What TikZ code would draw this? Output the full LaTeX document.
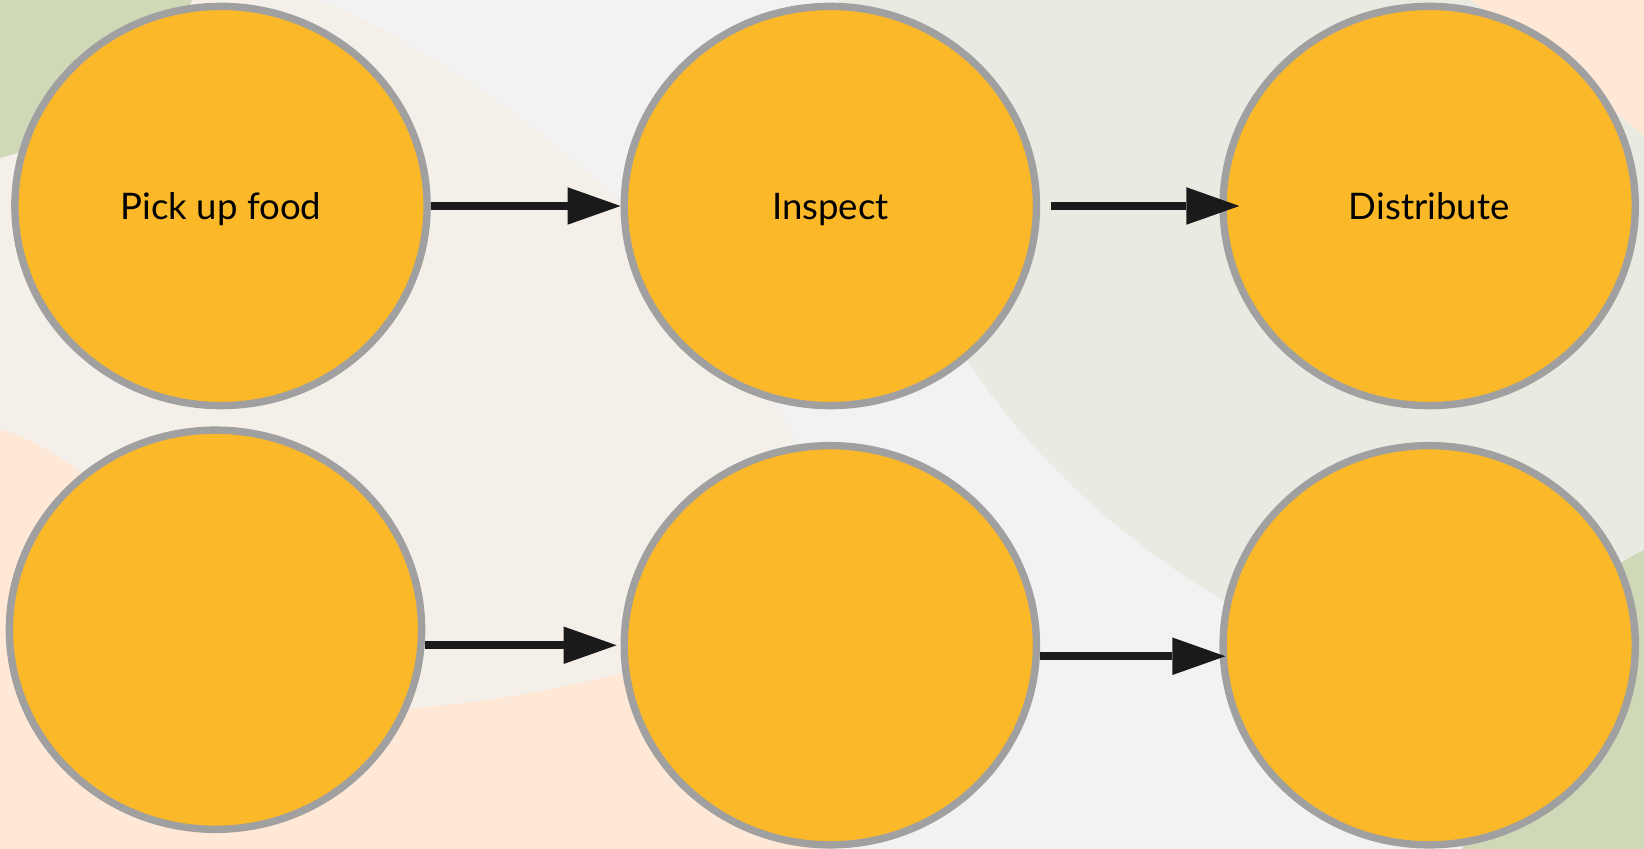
\documentclass[tikz,border=0pt]{standalone}
\usepackage{fontspec}
\setmainfont{Lato}
\usetikzlibrary{shapes.geometric, positioning, arrows.meta}
\definecolor{stagefill}{HTML}{FBB829}
\definecolor{stageline}{HTML}{A0A0A0}
\definecolor{paper}{HTML}{F2F2F2}
\definecolor{shell}{HTML}{F5EFEA}
\definecolor{peach}{HTML}{FFE8D6}
\definecolor{sage}{HTML}{CFD8B7}
\definecolor{mist}{HTML}{E9EAE2}
\definecolor{ink}{HTML}{1A1A1A}
\tikzset{
    x=0.01cm, y=-0.01cm, % one unit is one pixel, counted from the top left corner
    stage/.style={ellipse, draw=stageline, fill=stagefill, line width=2.1pt,
        minimum width=4.12cm, minimum height=3.99cm, text height=7.5pt, text depth=0pt,
        font=\fontsize{10.4}{12}\selectfont}, % sets the properties for each stage
    >={Triangle[length=5.3mm, width=3.75mm, line width=0pt]}, % solid triangle heads
    flow/.style={->, color=ink, line width=2.3pt}, % the arrows between the stages
}
\begin{document}
\begin{tikzpicture}
    \useasboundingbox (0,0) rectangle (1644,849);
    % background blobs
    \fill[paper] (0,0) rectangle (1644,849);
    \fill[mist] (838,0) .. controls (870,280) and (1020,480) .. (1226,602)
        -- (1360,690) -- (1644,690) -- (1644,0) -- cycle;
    \fill[peach] (1470,0) .. controls (1530,40) and (1590,90) .. (1644,136) -- (1644,0) -- cycle;
    \fill[sage] (1644,550) .. controls (1560,590) and (1500,700) .. (1462,849) -- (1644,849) -- cycle;
    \fill[shell] (0,0) -- (318,0) .. controls (470,60) and (700,230) .. (797,443)
        -- (830,640) -- (830,849) -- (0,849) -- cycle;
    \fill[peach] (0,430) .. controls (90,445) and (340,712) .. (410,708)
        .. controls (490,703) and (560,688) .. (623,673) -- (800,640) -- (830,849) -- (0,849) -- cycle;
    \fill[sage] (0,0) -- (192,0) .. controls (160,90) and (70,140) .. (0,158) -- cycle;

    \node[stage] (pick) at (221,206) {Pick up food};
    \node[stage, node distance=6.09cm, right of=pick] (inspect) {Inspect};
    \node[stage, node distance=5.985cm, right of=inspect] (distribute) {Distribute};
    \node[stage, node distance=4.235cm, below of=pick, xshift=-0.055cm] (low1) {};
    \node[stage, node distance=4.39cm, below of=inspect] (low2) {};
    \node[stage, node distance=4.39cm, below of=distribute] (low3) {};

    \path
    (pick) edge[flow] (inspect)
    (inspect) edge[flow, shorten <=0.11cm, shorten >=-0.2cm] (distribute)
    (low1.east |- low2) edge[flow, shorten >=0.04cm] (low2)
    ([yshift=-0.11cm]low2.east) edge[flow, shorten >=-0.06cm] ([yshift=-0.11cm]low3.west);
\end{tikzpicture}
\end{document}
